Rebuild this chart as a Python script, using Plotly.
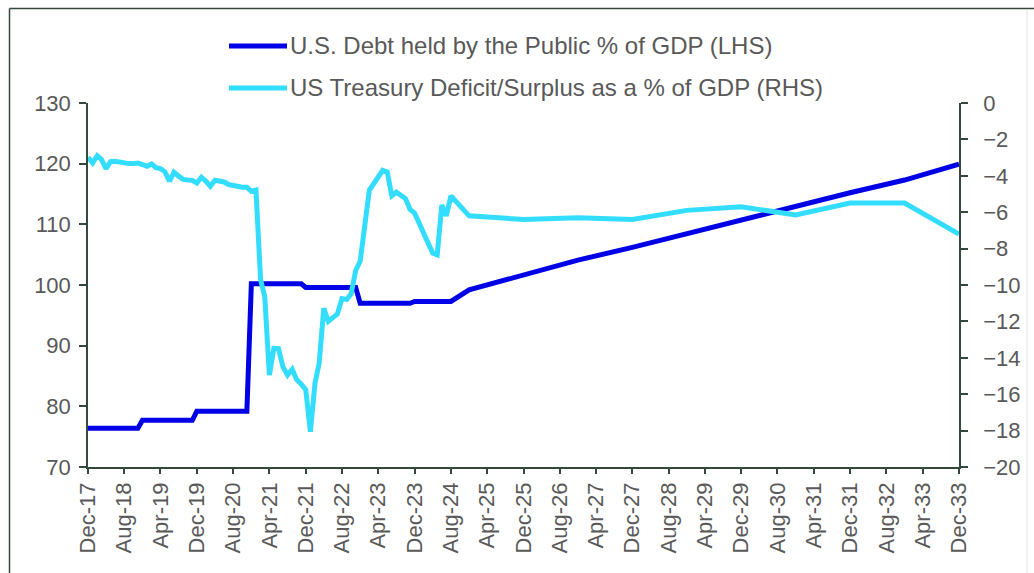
import pandas as pd
import plotly.graph_objects as go

# ---------------- data ----------------
hist_dates = pd.date_range("2017-12-01", "2024-08-01", freq="MS")  # monthly history
proj_dates = ["2024-12-01", "2025-12-01", "2026-12-01", "2027-12-01", "2028-12-01",
              "2029-12-01", "2030-12-01", "2031-12-01", "2032-12-01", "2033-12-01"]

debt_hist = [
    76.4, 76.4, 76.4, 76.4, 76.4, 76.4, 76.4, 76.4, 76.4, 76.4, 76.4, 76.4,
    77.7, 77.7, 77.7, 77.7, 77.7, 77.7, 77.7, 77.7, 77.7, 77.7, 77.7, 77.7,
    79.2, 79.2, 79.2, 79.2, 79.2, 79.2, 79.2, 79.2, 79.2, 79.2, 79.2, 79.2,
    100.2, 100.2, 100.2, 100.2, 100.2, 100.2, 100.2, 100.2, 100.2, 100.2, 100.2, 100.2,
    99.6, 99.6, 99.6, 99.6, 99.6, 99.6, 99.6, 99.6, 99.6, 99.6, 99.6, 99.6,
    97.0, 97.0, 97.0, 97.0, 97.0, 97.0, 97.0, 97.0, 97.0, 97.0, 97.0, 97.0,
    97.3, 97.3, 97.3, 97.3, 97.3, 97.3, 97.3, 97.3, 97.3,
]
debt_proj = [99.2, 101.6, 104.1, 106.2, 108.5, 110.6, 113.0, 115.2, 117.3, 119.9]

deficit_hist = [
    -2.98, -3.30, -2.90, -3.10, -3.60, -3.22, -3.20, -3.26, -3.31, -3.33, -3.33, -3.30,
    -3.38, -3.48, -3.35, -3.55, -3.60, -3.78, -4.30, -3.80, -4.02, -4.20, -4.23, -4.25,
    -4.40, -4.08, -4.30, -4.58, -4.25, -4.30, -4.34, -4.48, -4.55, -4.62, -4.63, -4.63,
    -4.85, -4.78, -9.70, -10.64, -14.95, -13.48, -13.50, -14.50, -14.95, -14.63, -15.20, -15.45,
    -15.75, -18.06, -15.40, -14.30, -11.28, -12.00, -11.80, -11.60, -10.75, -10.80, -10.50, -9.20,
    -8.70, -6.80, -4.78, -4.45, -4.10, -3.70, -3.80, -5.10, -4.90, -5.10, -5.25, -5.85,
    -6.05, -6.60, -7.10, -7.70, -8.25, -8.35, -5.60, -6.20, -5.10,
]
deficit_proj = [-6.2, -6.4, -6.3, -6.4, -5.9, -5.7, -6.15, -5.5, -5.5, -7.2]

tick_dates = pd.date_range("2017-12-01", "2033-12-01", freq="8MS")
tick_labels = ["Dec-17", "Aug-18", "Apr-19", "Dec-19", "Aug-20", "Apr-21", "Dec-21",
               "Aug-22", "Apr-23", "Dec-23", "Aug-24", "Apr-25", "Dec-25", "Aug-26",
               "Apr-27", "Dec-27", "Aug-28", "Apr-29", "Dec-29", "Aug-30", "Apr-31",
               "Dec-31", "Aug-32", "Apr-33", "Dec-33"]

series_names = ["U.S. Debt held by the Public % of GDP (LHS)",
                "US Treasury Deficit/Surplus as a % of GDP (RHS)"]

# ---------------- style ----------------
DEBT_COLOR = "#0000E6"
DEF_COLOR = "#33DDFF"
AXIS_COLOR = "#34483C"
TEXT_COLOR = "#595959"
FONT = "Arial, Liberation Sans, sans-serif"

W, H = 1034, 573
L, R, T, B = 88, 959, 103, 467  # plot area in pixels


def px_x(x):
    return (x - L) / (R - L)


def px_y(y):
    return (B - y) / (B - T)


dates_all = list(hist_dates.strftime("%Y-%m-%d")) + proj_dates

fig = go.Figure()
fig.add_trace(go.Scatter(x=dates_all, y=debt_hist + debt_proj, mode="lines",
                         name=series_names[0],
                         line=dict(color=DEBT_COLOR, width=5), yaxis="y"))
fig.add_trace(go.Scatter(x=dates_all, y=deficit_hist + deficit_proj, mode="lines",
                         name=series_names[1],
                         line=dict(color=DEF_COLOR, width=5), yaxis="y2"))

shapes = []
annotations = []
# custom legend
for i, (name, col, ypx) in enumerate(zip(series_names, [DEBT_COLOR, DEF_COLOR], [46, 88])):
    shapes.append(dict(type="line", xref="paper", yref="paper",
                       x0=px_x(229), x1=px_x(287), y0=px_y(ypx), y1=px_y(ypx),
                       line=dict(color=col, width=5)))
    annotations.append(dict(text=name, xref="paper", yref="paper",
                            x=px_x(288), y=px_y(ypx), xanchor="left", yanchor="middle",
                            showarrow=False, font=dict(family=FONT, size=24, color=TEXT_COLOR)))

# outer frame
shapes.append(dict(type="line", xref="paper", yref="paper",
                   x0=px_x(9.5), x1=px_x(1040), y0=px_y(8.5), y1=px_y(8.5),
                   line=dict(color=AXIS_COLOR, width=1.5)))
shapes.append(dict(type="line", xref="paper", yref="paper",
                   x0=px_x(9.5), x1=px_x(9.5), y0=px_y(8.5), y1=px_y(600),
                   line=dict(color=AXIS_COLOR, width=1.5)))
shapes.append(dict(type="line", xref="paper", yref="paper",
                   x0=px_x(1027), x1=px_x(1027), y0=px_y(9), y1=px_y(600),
                   line=dict(color="#E3E3E3", width=1)))

fig.update_layout(
    width=W, height=H, autosize=False,
    margin=dict(l=L, r=W - R, t=T, b=H - B, pad=0),
    paper_bgcolor="white", plot_bgcolor="white",
    showlegend=False,
    font=dict(family=FONT, size=22, color=TEXT_COLOR),
    shapes=shapes, annotations=annotations,
    xaxis=dict(type="date", range=["2017-12-01", "2033-12-01"],
               tickmode="array", tickvals=list(tick_dates), ticktext=tick_labels,
               tickangle=-90, ticks="outside", ticklen=5, tickwidth=1.5,
               tickcolor=AXIS_COLOR, showline=True, linecolor=AXIS_COLOR, linewidth=1.5,
               showgrid=False, zeroline=False, ticklabelstandoff=0,
               tickfont=dict(family=FONT, size=22, color=TEXT_COLOR)),
    yaxis=dict(range=[70, 130], dtick=10, tick0=70, ticks="outside", ticklen=7,
               tickwidth=1.5, tickcolor=AXIS_COLOR, showline=True, linecolor=AXIS_COLOR,
               linewidth=1.5, showgrid=False, zeroline=False, ticklabelstandoff=4,
               tickfont=dict(family=FONT, size=22, color=TEXT_COLOR)),
    yaxis2=dict(range=[-20, 0], dtick=2, tick0=-20, overlaying="y", side="right",
                ticks="outside", ticklen=7, tickwidth=1.5, tickcolor=AXIS_COLOR,
                showline=True, linecolor=AXIS_COLOR, linewidth=1.5, showgrid=False,
                zeroline=False, ticklabelstandoff=11,
                tickfont=dict(family=FONT, size=22, color=TEXT_COLOR)),
)

fig.write_html("out.html", config={"displayModeBar": False})
